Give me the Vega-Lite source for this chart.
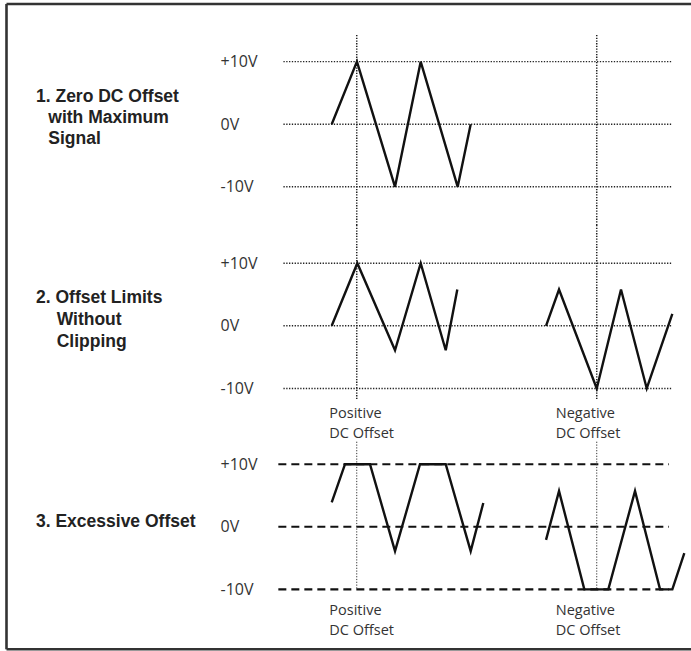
{
  "$schema": "https://vega.github.io/schema/vega-lite/v6.json",
  "padding": 0,
  "spacing": 0,
  "bounds": "flush",
  "background": "white",
  "config": {"view": {"stroke": null}},
  "resolve": {"scale": {"y": "independent", "x": "independent"}},
  "datasets": {
    "levels": [
      {"v": 10, "label": "+10V"},
      {"v": 0, "label": "0V"},
      {"v": -10, "label": "-10V"}
    ],
    "markers": [
      {"t": 3.93, "name": "positive"},
      {"t": 41.61, "name": "negative"}
    ],
    "offsetLabels": [
      {"t": -0.38, "label": "Positive\nDC Offset"},
      {"t": 35.17, "label": "Negative\nDC Offset"}
    ]
  },
  "vconcat": [
    {
      "width": 691,
      "height": 225,
      "layer": [
        {
          "data": {"values": [{}]},
          "mark": {"type": "rule", "color": "#333", "strokeWidth": 2.6},
          "encoding": {
            "x": {"datum": -51.06, "scale": {"domain": [-52.08, 56.41], "nice": false, "zero": false}, "axis": null},
            "y": {"datum": 19.22, "scale": {"domain": [-16.1, 19.85], "nice": false, "zero": false}, "axis": null},
            "y2": {"datum": -16.1}
          }
        },
        {
          "data": {"values": [{}]},
          "mark": {"type": "rule", "color": "#333", "strokeWidth": 2.6},
          "encoding": {
            "x": {"datum": -51.06},
            "x2": {"datum": 56.41},
            "y": {"datum": 19.22}
          }
        },
        {
          "data": {"name": "levels"},
          "mark": {"type": "rule", "color": "#222", "strokeWidth": 1.4, "strokeDash": [1.3, 1.5]},
          "encoding": {
            "y": {"field": "v", "type": "quantitative"},
            "x": {"datum": -7.58},
            "x2": {"datum": 53.33}
          }
        },
        {
          "data": {"name": "levels"},
          "mark": {"type": "text", "align": "left", "baseline": "alphabetic", "dy": 5.5, "font": "Open Sans", "fontSize": 16, "color": "#333"},
          "encoding": {
            "y": {"field": "v", "type": "quantitative"},
            "x": {"datum": -17.46},
            "text": {"field": "label"}
          }
        },
        {
          "data": {"name": "markers"},
          "mark": {"type": "rule", "color": "#222", "strokeWidth": 1.5, "strokeDash": [1.3, 1.4]},
          "encoding": {
            "x": {"field": "t", "type": "quantitative"},
            "y": {"datum": 14.26},
            "y2": {"datum": -16.1}
          }
        },
        {
          "data": {"values": [
            {"trace": "zero", "t": 0, "v": 0},
            {"trace": "zero", "t": 3.96, "v": 10},
            {"trace": "zero", "t": 9.94, "v": -10},
            {"trace": "zero", "t": 13.97, "v": 10},
            {"trace": "zero", "t": 19.78, "v": -10},
            {"trace": "zero", "t": 21.82, "v": 0}
          ]},
          "mark": {"type": "line", "color": "#111", "strokeWidth": 2.4},
          "encoding": {
            "x": {"field": "t", "type": "quantitative"},
            "y": {"field": "v", "type": "quantitative"},
            "detail": {"field": "trace"}
          }
        },
        {
          "data": {"values": [
            {"t": -46.43, "v": 3.6, "label": "1. Zero DC Offset"},
            {"t": -44.5, "v": 0.25, "label": "with Maximum"},
            {"t": -44.5, "v": -3.1, "label": "Signal"}
          ]},
          "mark": {"type": "text", "align": "left", "baseline": "alphabetic", "font": "Liberation Sans", "fontWeight": "bold", "fontSize": 17.5, "color": "#222"},
          "encoding": {
            "x": {"field": "t", "type": "quantitative"},
            "y": {"field": "v", "type": "quantitative"},
            "text": {"field": "label"}
          }
        }
      ]
    },
    {
      "width": 691,
      "height": 201,
      "layer": [
        {
          "data": {"values": [{}]},
          "mark": {"type": "rule", "color": "#333", "strokeWidth": 2.6},
          "encoding": {
            "x": {"datum": -51.06, "scale": {"domain": [-52.08, 56.41], "nice": false, "zero": false}, "axis": null},
            "y": {"datum": 16.1, "scale": {"domain": [-16.0, 16.1], "nice": false, "zero": false}, "axis": null},
            "y2": {"datum": -16.0}
          }
        },
        {
          "data": {"name": "levels"},
          "mark": {"type": "rule", "color": "#222", "strokeWidth": 1.4, "strokeDash": [1.3, 1.5]},
          "encoding": {
            "y": {"field": "v", "type": "quantitative"},
            "x": {"datum": -7.58},
            "x2": {"datum": 53.33}
          }
        },
        {
          "data": {"name": "levels"},
          "mark": {"type": "text", "align": "left", "baseline": "alphabetic", "dy": 5.5, "font": "Open Sans", "fontSize": 16, "color": "#333"},
          "encoding": {
            "y": {"field": "v", "type": "quantitative"},
            "x": {"datum": -17.46},
            "text": {"field": "label"}
          }
        },
        {
          "data": {"name": "markers"},
          "mark": {"type": "rule", "color": "#222", "strokeWidth": 1.5, "strokeDash": [1.3, 1.4]},
          "encoding": {
            "x": {"field": "t", "type": "quantitative"},
            "y": {"datum": 16.1},
            "y2": {"datum": -11.85}
          }
        },
        {
          "data": {"values": [
            {"trace": "positive", "t": 0, "v": 0},
            {"trace": "positive", "t": 4.02, "v": 10},
            {"trace": "positive", "t": 9.94, "v": -3.9},
            {"trace": "positive", "t": 13.97, "v": 10},
            {"trace": "positive", "t": 17.9, "v": -3.9},
            {"trace": "positive", "t": 19.72, "v": 5.8},
            {"trace": "negative", "t": 33.65, "v": 0},
            {"trace": "negative", "t": 35.69, "v": 5.8},
            {"trace": "negative", "t": 41.61, "v": -10},
            {"trace": "negative", "t": 45.42, "v": 5.8},
            {"trace": "negative", "t": 49.46, "v": -10},
            {"trace": "negative", "t": 53.48, "v": 1.9}
          ]},
          "mark": {"type": "line", "color": "#111", "strokeWidth": 2.4},
          "encoding": {
            "x": {"field": "t", "type": "quantitative"},
            "y": {"field": "v", "type": "quantitative"},
            "detail": {"field": "trace"}
          }
        },
        {
          "data": {"name": "offsetLabels"},
          "mark": {"type": "text", "align": "left", "baseline": "alphabetic", "font": "Open Sans", "fontSize": 14.5, "lineHeight": 19.8, "lineBreak": "\n", "color": "#333"},
          "encoding": {
            "x": {"field": "t", "type": "quantitative"},
            "y": {"datum": -14.7},
            "text": {"field": "label"}
          }
        },
        {
          "data": {"values": [
            {"t": -46.43, "v": 3.59, "label": "2. Offset Limits"},
            {"t": -43.18, "v": 0.13, "label": "Without"},
            {"t": -43.18, "v": -3.33, "label": "Clipping"}
          ]},
          "mark": {"type": "text", "align": "left", "baseline": "alphabetic", "font": "Liberation Sans", "fontWeight": "bold", "fontSize": 17.5, "color": "#222"},
          "encoding": {
            "x": {"field": "t", "type": "quantitative"},
            "y": {"field": "v", "type": "quantitative"},
            "text": {"field": "label"}
          }
        }
      ]
    },
    {
      "width": 691,
      "height": 225,
      "layer": [
        {
          "data": {"values": [{}]},
          "mark": {"type": "rule", "color": "#333", "strokeWidth": 2.6},
          "encoding": {
            "x": {"datum": -51.06, "scale": {"domain": [-52.08, 56.41], "nice": false, "zero": false}, "axis": null},
            "y": {"datum": 16.1, "scale": {"domain": [-19.85, 16.1], "nice": false, "zero": false}, "axis": null},
            "y2": {"datum": -19.58}
          }
        },
        {
          "data": {"values": [{}]},
          "mark": {"type": "rule", "color": "#333", "strokeWidth": 2.6},
          "encoding": {
            "x": {"datum": -51.06},
            "x2": {"datum": 56.41},
            "y": {"datum": -19.58}
          }
        },
        {
          "data": {"name": "levels"},
          "mark": {"type": "rule", "color": "#111", "strokeWidth": 2.1, "strokeDash": [8, 5]},
          "encoding": {
            "y": {"field": "v", "type": "quantitative"},
            "x": {"datum": -8.38},
            "x2": {"datum": 52.96}
          }
        },
        {
          "data": {"name": "levels"},
          "mark": {"type": "text", "align": "left", "baseline": "alphabetic", "dy": 5.5, "font": "Open Sans", "fontSize": 16, "color": "#333"},
          "encoding": {
            "y": {"field": "v", "type": "quantitative"},
            "x": {"datum": -17.46},
            "text": {"field": "label"}
          }
        },
        {
          "data": {"name": "markers"},
          "mark": {"type": "rule", "color": "#333", "strokeWidth": 1, "strokeDash": [1.2, 1.6]},
          "encoding": {
            "x": {"field": "t", "type": "quantitative"},
            "y": {"datum": 13.59},
            "y2": {"datum": -10}
          }
        },
        {
          "data": {"values": [
            {"trace": "positive", "t": 0, "v": 3.9},
            {"trace": "positive", "t": 2.09, "v": 10},
            {"trace": "positive", "t": 6.01, "v": 10},
            {"trace": "positive", "t": 9.94, "v": -3.9},
            {"trace": "positive", "t": 13.86, "v": 10},
            {"trace": "positive", "t": 17.9, "v": 10},
            {"trace": "positive", "t": 21.82, "v": -3.9},
            {"trace": "positive", "t": 23.8, "v": 3.8},
            {"trace": "negative", "t": 33.65, "v": -2.1},
            {"trace": "negative", "t": 35.69, "v": 5.7},
            {"trace": "negative", "t": 39.66, "v": -10},
            {"trace": "negative", "t": 43.43, "v": -10},
            {"trace": "negative", "t": 47.62, "v": 5.7},
            {"trace": "negative", "t": 51.55, "v": -10},
            {"trace": "negative", "t": 53.48, "v": -10},
            {"trace": "negative", "t": 55.36, "v": -4.2}
          ]},
          "mark": {"type": "line", "color": "#111", "strokeWidth": 2.4},
          "encoding": {
            "x": {"field": "t", "type": "quantitative"},
            "y": {"field": "v", "type": "quantitative"},
            "detail": {"field": "trace"}
          }
        },
        {
          "data": {"name": "offsetLabels"},
          "mark": {"type": "text", "align": "left", "baseline": "alphabetic", "font": "Open Sans", "fontSize": 14.5, "lineHeight": 19.8, "lineBreak": "\n", "color": "#333"},
          "encoding": {
            "x": {"field": "t", "type": "quantitative"},
            "y": {"datum": -14.1},
            "text": {"field": "label"}
          }
        },
        {
          "data": {"values": [
            {"t": -46.43, "v": -0.08, "label": "3. Excessive Offset"}
          ]},
          "mark": {"type": "text", "align": "left", "baseline": "alphabetic", "font": "Liberation Sans", "fontWeight": "bold", "fontSize": 17.5, "color": "#222"},
          "encoding": {
            "x": {"field": "t", "type": "quantitative"},
            "y": {"field": "v", "type": "quantitative"},
            "text": {"field": "label"}
          }
        }
      ]
    }
  ]
}
